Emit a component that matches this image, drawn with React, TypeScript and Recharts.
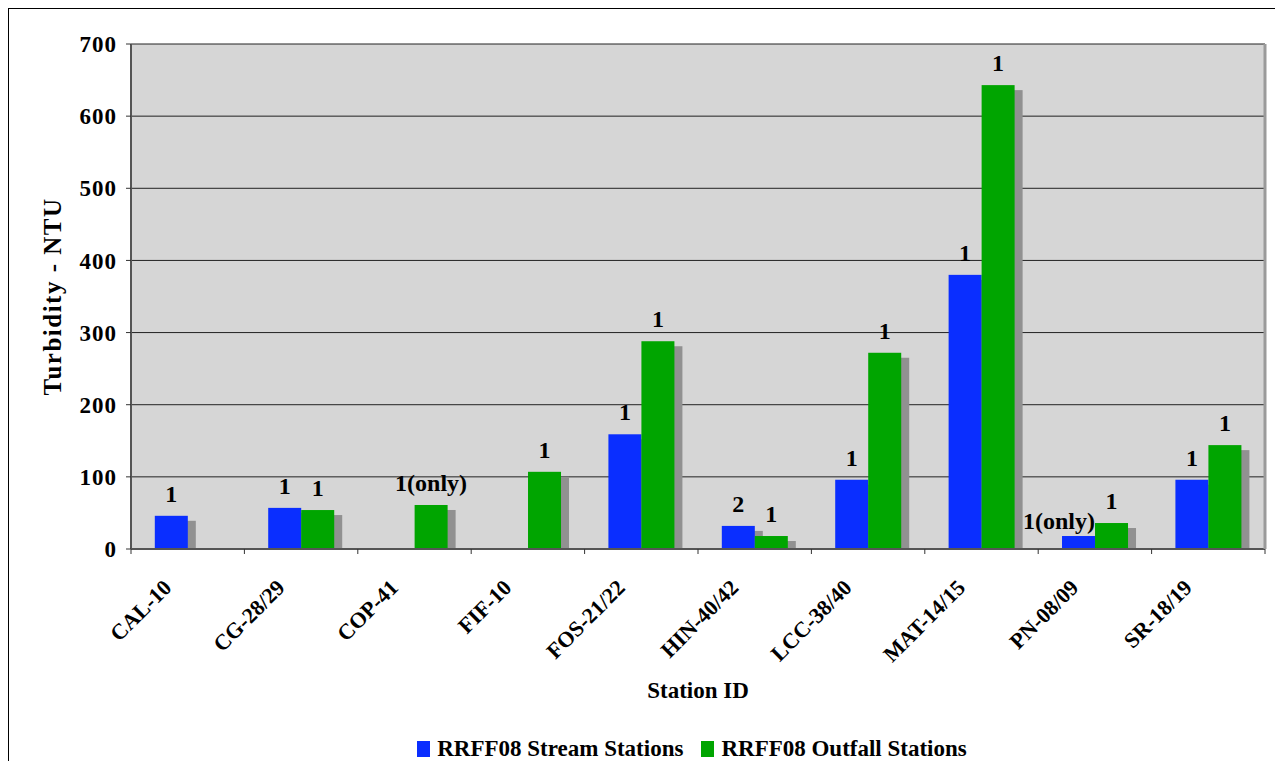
import { BarChart, Bar, XAxis, YAxis, CartesianGrid, Legend, LabelList } from 'recharts';

const stations = ['CAL-10', 'CG-28/29', 'COP-41', 'FIF-10', 'FOS-21/22', 'HIN-40/42', 'LCC-38/40', 'MAT-14/15', 'PN-08/09', 'SR-18/19'];
const streamNtu = [46, 57, null, null, 159, 32, 96, 380, 18, 96];
const outfallNtu = [null, 54, 61, 107, 288, 18, 272, 643, 36, 144];
// sample counts printed above the bars
const streamCounts = ['1', '1', '', '', '1', '2', '1', '1', '1(only)', '1'];
const outfallCounts = ['', '1', '1(only)', '1', '1', '1', '1', '1', '1', '1'];
const ntuTicks = [0, 100, 200, 300, 400, 500, 600, 700];

const BLUE = '#0A2EFF';
const GREEN = '#00A500';
const SHADOW = '#919191';
const FONT = "'Liberation Serif', 'Times New Roman', serif";

const data = stations.map((station, i) => ({
  station,
  stream: streamNtu[i],
  outfall: outfallNtu[i],
  streamCount: streamCounts[i],
  outfallCount: outfallCounts[i],
}));

// bar with a flat grey drop shadow behind it
const ShadowBar = (props: any) => {
  const { x, y, width, height, fill } = props;
  if (!height || height <= 0) return null;
  return (
    <g>
      <rect x={x + 8} y={y + 5} width={width} height={Math.max(height - 5, 0)} fill={SHADOW} />
      <rect x={x} y={y} width={width} height={height} fill={fill} />
    </g>
  );
};

const countLabel = (rightAlignLong: boolean) => (props: any) => {
  const { x, y, width, value } = props;
  if (!value) return null;
  const long = String(value).length > 1;
  const atRight = long && rightAlignLong;
  return (
    <text
      x={atRight ? x + width : x + width / 2}
      y={atRight ? y - 7 : y - 14}
      textAnchor={atRight ? 'end' : 'middle'}
      fontFamily={FONT}
      fontWeight="bold"
      fontSize={24}
      fill="#000"
    >
      {value}
    </text>
  );
};

const StationTick = (props: any) => {
  const { x, y, payload } = props;
  const half = payload.offset ?? 0;
  const last = payload.value === stations[stations.length - 1];
  const tx = x - 15;
  const ty = y + 34;
  return (
    <g>
      <line x1={x - half} x2={x - half} y1={y - 6} y2={y - 1} stroke="#333" />
      {last && <line x1={x + half} x2={x + half} y1={y - 6} y2={y - 1} stroke="#333" />}
      <text
        x={tx}
        y={ty}
        transform={`rotate(-45, ${tx}, ${ty})`}
        textAnchor="end"
        fontFamily={FONT}
        fontWeight="bold"
        fontSize={22}
        fill="#000"
      >
        {payload.value}
      </text>
    </g>
  );
};

const legendItems = [
  { label: 'RRFF08 Stream Stations', color: BLUE },
  { label: 'RRFF08 Outfall Stations', color: GREEN },
];

const LegendContent = () => (
  <div style={{ display: 'flex', justifyContent: 'center', alignItems: 'center', height: 24, fontFamily: FONT, fontWeight: 'bold', fontSize: 23 }}>
    {legendItems.map((item) => (
      <div key={item.label} style={{ display: 'flex', alignItems: 'center', marginRight: 18 }}>
        <span style={{ display: 'inline-block', width: 13, height: 16, background: item.color, marginRight: 7 }} />
        <span>{item.label}</span>
      </div>
    ))}
  </div>
);

export default function App() {
  return (
    <div style={{ width: 1267, height: 752, borderLeft: '1px solid #000', borderTop: '1px solid #000', overflow: 'hidden' }}>
      <BarChart
        width={1266}
        height={752}
        data={data}
        margin={{ top: 35, right: 9, left: 0, bottom: 0 }}
        barCategoryGap="21%"
        barGap={0}
      >
        <CartesianGrid vertical={false} fill="#D6D6D6" stroke="#222" />
        <XAxis
          dataKey="station"
          height={188}
          interval={0}
          tick={<StationTick />}
          tickLine={false}
          tickSize={6}
          tickMargin={0}
          axisLine={{ stroke: '#555', strokeWidth: 2 }}
          label={{ value: 'Station ID', position: 'insideBottom', offset: 39, fontFamily: FONT, fontWeight: 'bold', fontSize: 23, fill: '#000' }}
        />
        <YAxis
          width={122}
          domain={[0, 700]}
          ticks={ntuTicks}
          tickSize={5}
          tickMargin={9}
          axisLine={{ stroke: '#555', strokeWidth: 2 }}
          tickLine={{ stroke: '#333' }}
          tick={{ fontFamily: FONT, fontWeight: 'bold', fontSize: 23, letterSpacing: 1, fill: '#000' }}
          label={{ value: 'Turbidity - NTU', angle: -90, position: 'insideLeft', offset: 43, textAnchor: 'middle', fontFamily: FONT, fontWeight: 'bold', fontSize: 25, letterSpacing: 1.5, fill: '#000' }}
        />
        <YAxis
          yAxisId="frame"
          orientation="right"
          width={1}
          domain={[0, 700]}
          tick={false}
          tickLine={false}
          axisLine={{ stroke: '#9A9A9A', strokeWidth: 3 }}
        />
        <Legend verticalAlign="bottom" content={<LegendContent />} wrapperStyle={{ left: 120, width: 1144 }} />
        <Bar dataKey="stream" name="RRFF08 Stream Stations" fill={BLUE} shape={<ShadowBar />} isAnimationActive={false}>
          <LabelList dataKey="streamCount" content={countLabel(true)} />
        </Bar>
        <Bar dataKey="outfall" name="RRFF08 Outfall Stations" fill={GREEN} shape={<ShadowBar />} isAnimationActive={false}>
          <LabelList dataKey="outfallCount" content={countLabel(false)} />
        </Bar>
      </BarChart>
    </div>
  );
}
